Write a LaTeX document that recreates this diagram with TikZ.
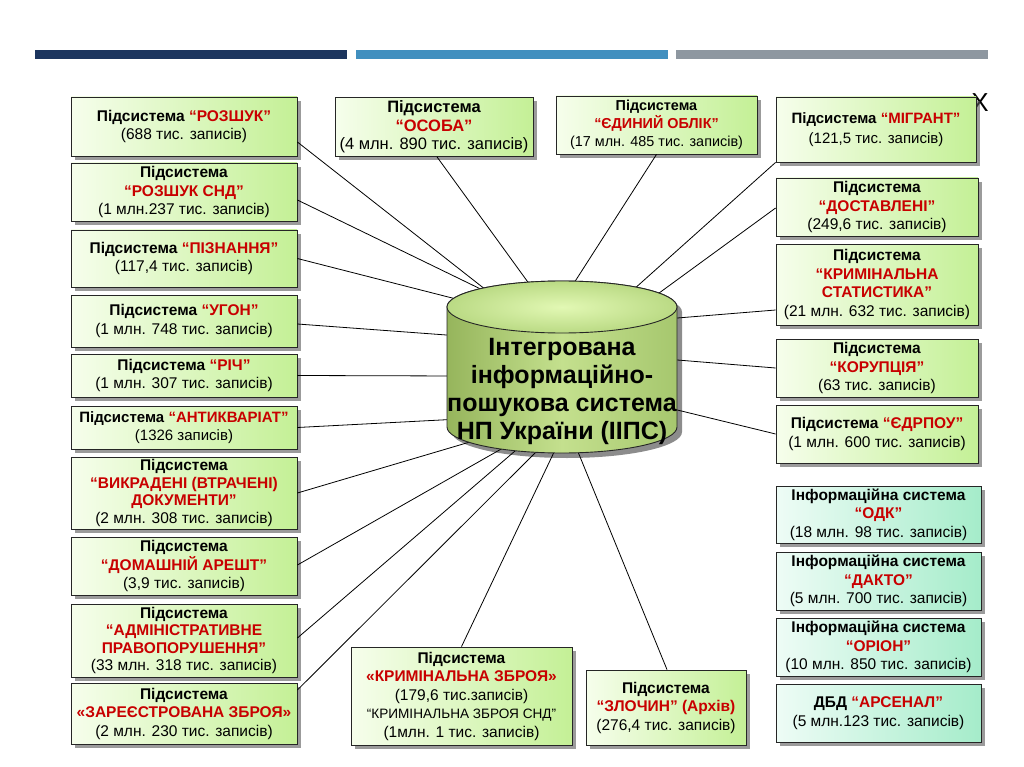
\documentclass[tikz,border=0pt]{standalone}
\usepackage{fontspec}
\setmainfont{Liberation Sans}
\usetikzlibrary{shadows}
\definecolor{rd}{RGB}{200,0,0}
\definecolor{boxL}{RGB}{246,254,236}
\definecolor{boxR}{RGB}{196,240,150}
\definecolor{mintL}{RGB}{238,252,246}
\definecolor{mintR}{RGB}{165,236,202}
\definecolor{navy}{RGB}{28,53,94}
\definecolor{midblue}{RGB}{65,143,191}
\definecolor{greybar}{RGB}{142,151,160}
\definecolor{cylL}{RGB}{150,181,92}
\definecolor{cylM}{RGB}{196,224,142}
\definecolor{cylR}{RGB}{166,199,110}
\definecolor{topIn}{RGB}{226,248,180}
\definecolor{topOut}{RGB}{186,218,132}
\newcommand{\rt}[1]{\textcolor{rd}{\textbf{#1}}}
\newcommand{\pd}{\textbf{Підсистема}}
\begin{document}
\begin{tikzpicture}[x=1pt,y=-1pt,
  bx/.style={draw=black!85, line width=0.8pt, inner sep=0pt, align=center,
    left color=boxL, right color=boxR,
    drop shadow={shadow xshift=4pt, shadow yshift=-4pt, fill=black!65, opacity=0.6},
    font=\fontsize{15.5}{18.5}\selectfont},
  mint/.style={bx, left color=mintL, right color=mintR},
  conn/.style={draw=black, line width=0.8pt}]
\useasboundingbox (0,0) rectangle (1024,767);
\fill[white] (0,0) rectangle (1024,767);
% top bars
\fill[navy] (35,50) rectangle (347,59);
\fill[midblue] (356,50) rectangle (668,59);
\fill[greybar] (676,50) rectangle (988,59);
\node[inner sep=0pt, font=\fontsize{26}{26}\selectfont] (xmark) at (980,103) {X};

% left column
\node[bx, minimum width=226pt, minimum height=59pt] (roz) at (184,126.5)
  {\pd{} \rt{“РОЗШУК”}\\(688 тис. записів)};
\node[bx, minimum width=226pt, minimum height=58pt] (rozsnd) at (184,192)
  {\pd\\\rt{“РОЗШУК СНД”}\\(1 млн.237 тис. записів)};
\node[bx, minimum width=226pt, minimum height=57pt] (pizn) at (184,258.5)
  {\pd{} \rt{“ПІЗНАННЯ”}\\(117,4 тис. записів)};
\node[bx, minimum width=226pt, minimum height=52pt] (uhon) at (184,321)
  {\pd{} \rt{“УГОН”}\\(1 млн. 748 тис. записів)};
\node[bx, minimum width=226pt, minimum height=43pt] (rich) at (184,375.5)
  {\pd{} \rt{“РІЧ”}\\(1 млн. 307 тис. записів)};
\node[bx, minimum width=226pt, minimum height=43pt, font=\fontsize{15}{18}\selectfont] (antyk) at (184,427.5)
  {\pd{} \rt{“АНТИКВАРІАТ”}\\{\fontsize{15}{17}\selectfont (1326 записів)}};
\node[bx, minimum width=226pt, minimum height=72pt, font=\fontsize{15.5}{17.5}\selectfont] (vykr) at (184,493)
  {\pd\\\rt{“ВИКРАДЕНІ (ВТРАЧЕНІ)}\\\rt{ДОКУМЕНТИ”}\\(2 млн. 308 тис. записів)};
\node[bx, minimum width=226pt, minimum height=58pt] (dom) at (184,566)
  {\pd\\\rt{“ДОМАШНІЙ АРЕШТ”}\\(3,9 тис. записів)};
\node[bx, minimum width=226pt, minimum height=73pt, font=\fontsize{15.5}{17.5}\selectfont] (adm) at (184,640.5)
  {\pd\\\rt{“АДМІНІСТРАТИВНЕ}\\\rt{ПРАВОПОРУШЕННЯ”}\\(33 млн. 318 тис. записів)};
\node[bx, minimum width=226pt, minimum height=61pt] (zar) at (184,713.5)
  {\pd\\\rt{«ЗАРЕЄСТРОВАНА ЗБРОЯ»}\\(2 млн. 230 тис. записів)};

% top row
\node[bx, minimum width=198pt, minimum height=59pt, font=\fontsize{16.5}{18.5}\selectfont] (osoba) at (434,127)
  {\pd\\\rt{“ОСОБА”}\\(4 млн. 890 тис. записів)};
\node[bx, minimum width=201pt, minimum height=58pt, font=\fontsize{14.4}{18}\selectfont] (yedyn) at (656.5,125)
  {\pd\\\rt{“ЄДИНИЙ ОБЛІК”}\\(17 млн. 485 тис. записів)};

% right column
\node[bx, minimum width=200pt, minimum height=65pt, font=\fontsize{15}{20}\selectfont] (mihr) at (876,129.5)
  {\pd{} \rt{“МІГРАНТ”}\\(121,5 тис. записів)};
\node[bx, minimum width=202pt, minimum height=58pt] (dost) at (877,207)
  {\pd\\\rt{“ДОСТАВЛЕНІ”}\\(249,6 тис. записів)};
\node[bx, minimum width=202pt, minimum height=81pt] (kstat) at (877,284.5)
  {\pd\\\rt{“КРИМІНАЛЬНА}\\\rt{СТАТИСТИКА”}\\(21 млн. 632 тис. записів)};
\node[bx, minimum width=202pt, minimum height=58pt] (kor) at (877,368)
  {\pd\\\rt{“КОРУПЦІЯ”}\\(63 тис. записів)};
\node[bx, minimum width=202pt, minimum height=58pt] (edrpou) at (877,434)
  {\pd{} \rt{“ЄДРПОУ”}\\(1 млн. 600 тис. записів)};
\node[mint, minimum width=205pt, minimum height=57pt] (odk) at (878.5,514.5)
  {\textbf{Інформаційна система}\\\rt{“ОДК”}\\(18 млн. 98 тис. записів)};
\node[mint, minimum width=205pt, minimum height=58pt] (dakto) at (878.5,581)
  {\textbf{Інформаційна система}\\\rt{“ДАКТО”}\\(5 млн. 700 тис. записів)};
\node[mint, minimum width=205pt, minimum height=58pt] (orion) at (878.5,647)
  {\textbf{Інформаційна система}\\\rt{“ОРІОН”}\\(10 млн. 850 тис. записів)};
\node[mint, minimum width=205pt, minimum height=58pt] (arsenal) at (878.5,713)
  {\textbf{ДБД} \rt{“АРСЕНАЛ”}\\(5 млн.123 тис. записів)};

% bottom row
\node[bx, minimum width=221pt, minimum height=98pt] (kzbr) at (461.5,696)
  {\pd\\\rt{«КРИМІНАЛЬНА ЗБРОЯ»}\\(179,6 тис.записів)\\{\fontsize{13.6}{18.5}\selectfont “КРИМІНАЛЬНА ЗБРОЯ СНД”}\\(1млн. 1 тис. записів)};
\node[bx, minimum width=160pt, minimum height=75pt] (zloch) at (666,707.5)
  {\pd\\\rt{“ЗЛОЧИН” (Архів)}\\(276,4 тис. записів)};

% connector end points inside the cylinder
\coordinate (e-roz) at (495,297);
\coordinate (e-rozsnd) at (495,296);
\coordinate (e-pizn) at (460,300);
\coordinate (e-uhon) at (460,336);
\coordinate (e-rich) at (460,376);
\coordinate (e-antyk) at (460,419);
\coordinate (e-vykr) at (480,439);
\coordinate (e-dom) at (510,444);
\coordinate (e-adm) at (522,445);
\coordinate (e-zar) at (542,446);
\coordinate (e-kzbr) at (556,448);
\coordinate (e-zloch) at (576,447);
\coordinate (e-osoba) at (530,285);
\coordinate (e-yedyn) at (574,283);
\coordinate (e-mihr) at (633,290);
\coordinate (e-dost) at (655,296);
\coordinate (e-kstat) at (665,319);
\coordinate (e-kor) at (665,359);
\coordinate (e-edrpou) at (665,407);

\draw[conn] ([yshift=-15.5pt]roz.east) -- (e-roz);
\draw[conn] ([yshift=-8pt]rozsnd.east) -- (e-rozsnd);
\draw[conn] (pizn.east) -- (e-pizn);
\draw[conn] ([yshift=-3pt]uhon.east) -- (e-uhon);
\draw[conn] (rich.east) -- (e-rich);
\draw[conn] (antyk.east) -- (e-antyk);
\draw[conn] (vykr.east) -- (e-vykr);
\draw[conn] ([yshift=1pt]dom.east) -- (e-dom);
\draw[conn] ([yshift=2.5pt]adm.east) -- (e-adm);
\draw[conn] ([yshift=23.5pt]zar.east) -- (e-zar);
\draw[conn] (kzbr.north) -- (e-kzbr);
\draw[conn] ([xshift=1pt]zloch.north) -- (e-zloch);
\draw[conn] ([xshift=3pt]osoba.south) -- (e-osoba);
\draw[conn] (yedyn.south) -- (e-yedyn);
\draw[conn] (mihr.south west) -- (e-mihr);
\draw[conn] ([yshift=-1pt]dost.west) -- (e-dost);
\draw[conn] ([yshift=-25.5pt]kstat.west) -- (e-kstat);
\draw[conn] (kor.west) -- (e-kor);
\draw[conn] (edrpou.west) -- (e-edrpou);

% cylinder
\fill[black, opacity=0.45] (452,312) -- (452,432) arc[start angle=180,end angle=360,x radius=115pt,y radius=26pt]
  -- (682,312) arc[start angle=0,end angle=180,x radius=115pt,y radius=26pt] -- cycle;
\path[left color=cylL, right color=cylR, middle color=cylM, draw=black!85, line width=0.9pt]
  (447,307) -- (447,427) arc[start angle=180,end angle=360,x radius=115pt,y radius=26pt]
  -- (677,307) arc[start angle=0,end angle=180,x radius=115pt,y radius=26pt] -- cycle;
\path[inner color=topIn, outer color=topOut, draw=black!85, line width=0.9pt]
  (562,307) ellipse[x radius=115pt, y radius=26pt];
\node[align=center, inner sep=0pt, font=\fontsize{25}{28}\selectfont\bfseries] (cyl) at (562,391)
  {Інтегрована\\інформаційно-\\пошукова система\\НП України (ІІПС)};
\end{tikzpicture}
\end{document}
